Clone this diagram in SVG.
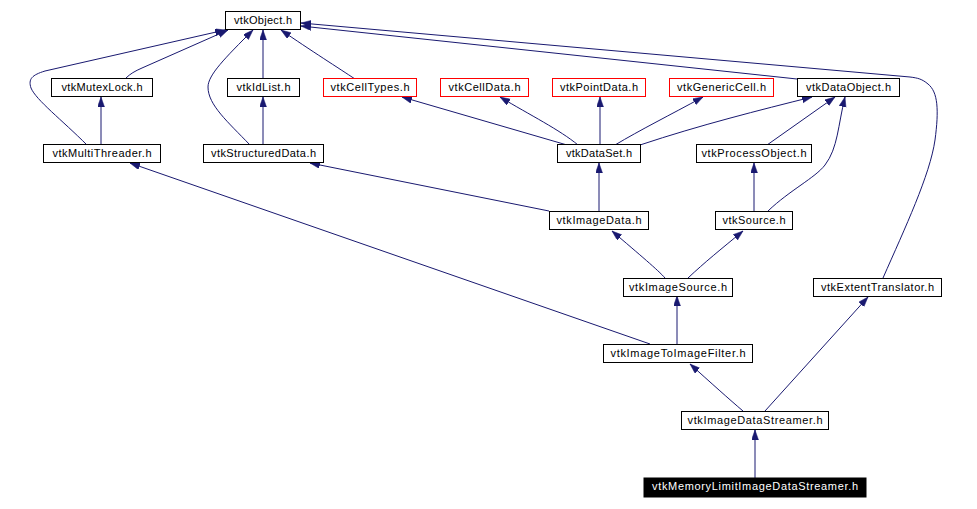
<svg xmlns="http://www.w3.org/2000/svg" width="977" height="509" viewBox="0 0 977 509">
<defs>
<style>
.n rect{fill:#fff;stroke:#000;stroke-width:1}
.n.r rect{stroke:#f00}
.n text{font-family:"Liberation Sans",Arial,sans-serif;font-size:11px;fill:#000;text-anchor:middle}
.n.m rect{fill:#000;stroke:#000}
.n.m text{fill:#fff}
.e path{fill:none;stroke:#191970;stroke-width:1;marker-end:url(#ah)}
</style>
<marker id="ah" markerUnits="userSpaceOnUse" markerWidth="11" markerHeight="8" refX="10" refY="3.5" orient="auto">
<path d="M0,0 L10,3.5 L0,7 z" fill="#191970" stroke="#191970" stroke-width="0.5"/>
</marker>
</defs>
<rect width="977" height="509" fill="#fff"/>
<g id="edges" class="e">
<path d="M87,145 C62,120 36,100 31,88 C28,79 32,75 45,71 L225,30"/>
<path d="M126,78 C130,74 135,71 142,68 L228,30"/>
<path d="M101,145 L101,97"/>
<path d="M263,79 L263,30"/>
<path d="M250,145 C228,122 208,105 208,87 C208,75 225,58 253,30"/>
<path d="M263,145 L263,97"/>
<path d="M355,79 C340,69 310,50 281,30"/>
<path d="M797,79 L301,26"/>
<path d="M883,278 C905,228 930,175 935,140 C939,110 938,92 928,84 C922,79 918,78 910,77 L301,23"/>
<path d="M567,145 L402,97"/>
<path d="M578,145 C560,130 530,115 500,97"/>
<path d="M600,145 L600,97"/>
<path d="M615,145 C640,130 670,115 703,97"/>
<path d="M640,145 C700,125 760,110 812,97"/>
<path d="M767,145 L835,97"/>
<path d="M768,211 C790,190 815,178 825,165 C838,148 838,125 845,97"/>
<path d="M754,211 L754,163"/>
<path d="M599,211 L599,163"/>
<path d="M549,211 L310,163"/>
<path d="M665,278 C658,270 640,255 612,231"/>
<path d="M688,278 C705,262 720,250 743,231"/>
<path d="M677,344 L677,296"/>
<path d="M650,344 L130,163"/>
<path d="M743,411 C730,400 710,382 690,364"/>
<path d="M765,411 L868,297"/>
<path d="M755,478 L755,430"/>
</g>
<g id="vtkObject" class="n"><rect x="225.5" y="11.5" width="75" height="18"/><text x="263" y="23.5" textLength="58" lengthAdjust="spacing">vtkObject.h</text></g>
<g id="vtkMutexLock" class="n"><rect x="51.5" y="78.5" width="101" height="18"/><text x="102" y="90.5" textLength="81" lengthAdjust="spacing">vtkMutexLock.h</text></g>
<g id="vtkIdList" class="n"><rect x="227.5" y="78.5" width="72" height="18"/><text x="263.5" y="90.5" textLength="54" lengthAdjust="spacing">vtkIdList.h</text></g>
<g id="vtkCellTypes" class="n r"><rect x="323.5" y="78.5" width="93" height="18"/><text x="370" y="90.5" textLength="79" lengthAdjust="spacing">vtkCellTypes.h</text></g>
<g id="vtkCellData" class="n r"><rect x="440.5" y="78.5" width="88" height="18"/><text x="484.5" y="90.5" textLength="72" lengthAdjust="spacing">vtkCellData.h</text></g>
<g id="vtkPointData" class="n r"><rect x="552.5" y="78.5" width="93" height="18"/><text x="599" y="90.5" textLength="78" lengthAdjust="spacing">vtkPointData.h</text></g>
<g id="vtkGenericCell" class="n r"><rect x="669.5" y="78.5" width="104" height="18"/><text x="721.5" y="90.5" textLength="89" lengthAdjust="spacing">vtkGenericCell.h</text></g>
<g id="vtkDataObject" class="n"><rect x="797.5" y="78.5" width="102" height="18"/><text x="848.5" y="90.5" textLength="85" lengthAdjust="spacing">vtkDataObject.h</text></g>
<g id="vtkMultiThreader" class="n"><rect x="43.5" y="144.5" width="117" height="18"/><text x="102" y="156.5" textLength="99" lengthAdjust="spacing">vtkMultiThreader.h</text></g>
<g id="vtkStructuredData" class="n"><rect x="203.5" y="144.5" width="120" height="18"/><text x="263.5" y="156.5" textLength="105" lengthAdjust="spacing">vtkStructuredData.h</text></g>
<g id="vtkDataSet" class="n"><rect x="557.5" y="144.5" width="83" height="18"/><text x="599" y="156.5" textLength="66" lengthAdjust="spacing">vtkDataSet.h</text></g>
<g id="vtkProcessObject" class="n"><rect x="696.5" y="144.5" width="115" height="18"/><text x="754" y="156.5" textLength="105" lengthAdjust="spacing">vtkProcessObject.h</text></g>
<g id="vtkImageData" class="n"><rect x="549.5" y="211.5" width="99" height="18"/><text x="599" y="223.5" textLength="85" lengthAdjust="spacing">vtkImageData.h</text></g>
<g id="vtkSource" class="n"><rect x="715.5" y="211.5" width="77" height="18"/><text x="754" y="223.5" textLength="63" lengthAdjust="spacing">vtkSource.h</text></g>
<g id="vtkImageSource" class="n"><rect x="623.5" y="278.5" width="109" height="18"/><text x="678" y="290.5" textLength="98" lengthAdjust="spacing">vtkImageSource.h</text></g>
<g id="vtkExtentTranslator" class="n"><rect x="813.5" y="278.5" width="128" height="18"/><text x="877.5" y="290.5" textLength="113" lengthAdjust="spacing">vtkExtentTranslator.h</text></g>
<g id="vtkImageToImageFilter" class="n"><rect x="603.5" y="344.5" width="149" height="18"/><text x="678" y="356.5" textLength="135" lengthAdjust="spacing">vtkImageToImageFilter.h</text></g>
<g id="vtkImageDataStreamer" class="n"><rect x="681.5" y="411.5" width="147" height="18"/><text x="755" y="423.5" textLength="135" lengthAdjust="spacing">vtkImageDataStreamer.h</text></g>
<g id="vtkMemoryLimitImageDataStreamer" class="n m"><rect x="644" y="478" width="222" height="19"/><text x="755" y="490" textLength="206" lengthAdjust="spacing">vtkMemoryLimitImageDataStreamer.h</text></g>
</svg>
